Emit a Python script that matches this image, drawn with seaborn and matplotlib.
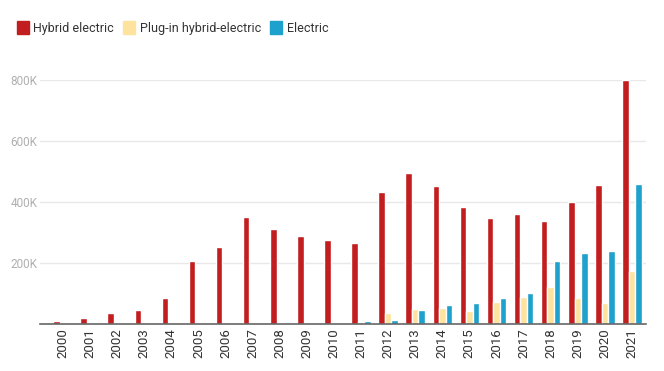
import pandas as pd
import matplotlib
matplotlib.use('Agg')
import matplotlib.pyplot as plt
import seaborn as sns

# values (vehicle sales)
years = [str(y) for y in range(2000, 2022)]
hybrid = [9000, 21000, 36000, 47000, 84000, 205000, 252000, 350000, 313000, 290000,
          274000, 267000, 434000, 496000, 452000, 384000, 346000, 362000, 338000,
          400000, 457000, 800000]
plugin = [0, 0, 0, 0, 0, 0, 0, 0, 0, 0,
          0, 7700, 37000, 48000, 53000, 42000, 72000, 89000, 122000,
          85000, 68000, 173000]
electric = [0, 0, 0, 0, 0, 0, 0, 0, 0, 0,
            0, 9700, 14000, 47000, 63000, 70000, 86000, 103000, 207000,
            234000, 238000, 459000]
series = ['Hybrid electric', 'Plug-in hybrid-electric', 'Electric']
colors = ['#c21d1f', '#fde39d', '#1ea1cc']

df = pd.DataFrame({'year': years * 3,
                   'sales': hybrid + plugin + electric,
                   'type': [s for s in series for _ in years]})

sns.set_style('white')
plt.rcParams['font.family'] = ['Roboto', 'DejaVu Sans']

fig = plt.figure(figsize=(6.64, 3.71), dpi=100)
ax = fig.add_axes([40 / 664, 1 - 324 / 371, 605.5 / 664, 244 / 371])

sns.barplot(data=df, x='year', y='sales', hue='type', palette=colors,
            width=0.72, saturation=1, ax=ax, legend=False)

ax.set_xlim(-0.85, 21.5)
ax.set_ylim(0, 800000)
ax.set_yticks([200000, 400000, 600000, 800000])
ax.set_yticklabels(['200K', '400K', '600K', '800K'])
ax.grid(axis='y', color='#e8e8e8', linewidth=1)
ax.set_axisbelow(True)
for s in ['top', 'right', 'left']:
    ax.spines[s].set_visible(False)
ax.spines['bottom'].set_color('#666666')
ax.spines['bottom'].set_linewidth(1.2)
ax.tick_params(axis='y', length=0, pad=2, labelsize=8.5, labelcolor='#b0b0b0')
ax.tick_params(axis='x', length=0, pad=3, labelsize=9.5, labelcolor='#333333',
               labelrotation=90)
ax.set_xlabel('')
ax.set_ylabel('')

handles = [plt.Rectangle((0, 0), 1, 1, color=c) for c in colors]
fig.legend(handles, series, loc='upper left', bbox_to_anchor=(0.008, 0.975),
           ncol=3, frameon=False, fontsize=9, handlelength=1.0, handleheight=1.3,
           handletextpad=0.35, columnspacing=0.7, labelcolor='#333333')

fig.savefig('out.png', dpi=100)
